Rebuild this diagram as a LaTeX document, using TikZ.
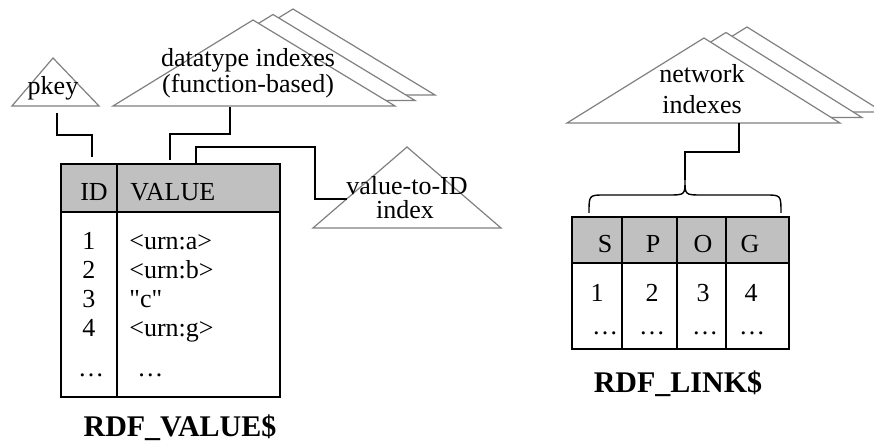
\documentclass[tikz,border=0pt]{standalone}
\usepackage{fontspec}
\setmainfont{Liberation Serif}
\definecolor{trigray}{RGB}{128,128,128}
\definecolor{hdrgray}{RGB}{192,192,192}
\tikzset{
  tri/.style={draw=trigray, fill=white, line width=0.6pt},
  conn/.style={line width=0.7pt},
  tbl/.style={line width=0.8pt},
  txt/.style={inner sep=0pt, anchor=base, font=\fontsize{13}{15}\selectfont},
  title/.style={inner sep=0pt, anchor=base, font=\fontsize{15}{18}\selectfont\bfseries}
}
\begin{document}
\begin{tikzpicture}[x=0.5pt, y=-0.5pt]
\useasboundingbox (0,0) rectangle (874,443);
% index triangles
\filldraw[tri] (53,58) -- (99,106) -- (12,106) -- cycle;
\foreach \dx/\dy in {40/-11, 20/-5.5, 0/0}
  \filldraw[tri, shift={(\dx,\dy)}] (253,20) -- (395,106) -- (113,106) -- cycle;
\filldraw[tri] (407,147) -- (501,228) -- (313,228) -- cycle;
\foreach \dx/\dy in {43/-11, 22/-5.5, 0/0}
  \filldraw[tri, shift={(\dx,\dy)}] (704,38) -- (840,123) -- (567,123) -- cycle;
\node[txt] (pkey) at (53,95) {pkey};
\node[txt] (dt1) at (248,67) {datatype indexes};
\node[txt] (dt2) at (248,93) {(function-based)};
\node[txt] (v2i1) at (407,195) {value-to-ID};
\node[txt] (v2i2) at (405,219) {index};
\node[txt] (nw1) at (702,83) {network};
\node[txt] (nw2) at (702,114) {indexes};
% RDF_VALUE$ table
\filldraw[tbl, fill=hdrgray] (61,164) rectangle (280,212);
\draw[tbl] (61,164) rectangle (280,397);
\draw[tbl] (117,164) -- (117,397);
\node[txt] (id) at (94,201) {ID};
\node[txt, anchor=base west] (val) at (130,201) {VALUE};
\foreach \n/\v/\y in {1/{<urn:a>}/250, 2/{<urn:b>}/279, 3/{\textquotedbl c\textquotedbl}/308, 4/{<urn:g>}/337} {
  \node[txt] (id\n) at (89,\y) {\n};
  \node[txt, anchor=base west] (val\n) at (129,\y) {\v};
}
\node[txt] (idd) at (91,377) {\dots};
\node[txt, anchor=base west] (vald) at (137,377) {\dots};
\node[title] (tv) at (180,437) {RDF\_VALUE\$};
% RDF_LINK$ table
\filldraw[tbl, fill=hdrgray] (572,217) rectangle (789,263);
\draw[tbl] (572,217) rectangle (789,349);
\foreach \x in {622,677,726}
  \draw[tbl] (\x,217) -- (\x,349);
\foreach \n/\x in {S/605, P/653, O/703, G/750}
  \node[txt] (h\n) at (\x,253) {\n};
\foreach \n/\x in {1/597, 2/652, 3/703, 4/751}
  \node[txt] (r\n) at (\x,302) {\n};
\foreach \n/\x in {1/605, 2/652, 3/705, 4/752}
  \node[txt] (d\n) at (\x,335) {\dots};
\node[title] (tl) at (678,393) {RDF\_LINK\$};
% connectors
\coordinate (pk) at (57,113);
\coordinate (idtop) at (92,157);
\draw[conn] (pk) -- ++(0,22) -| (idtop);
\coordinate (dtb) at (230,107);
\coordinate (valtop) at (170,160);
\draw[conn] (dtb) -- ++(0,27) -| (valtop);
\coordinate (vtop) at (196,164);
\coordinate (vx) at (315,147);
\coordinate (vend) at (347,199);
\draw[conn] (vtop) |- (vx) |- (vend);
\coordinate (tip) at (685,180);
\coordinate (nwb) at (739,123);
\draw[conn] (nwb) -- ++(0,29) -| (tip);
\draw[conn] (589,213) .. controls (589,195) .. (605,195) -- (668,195)
  .. controls (685,195) .. (tip) .. controls (685,195) .. (702,195)
  -- (765,195) .. controls (781,195) .. (781,213);
\end{tikzpicture}
\end{document}
